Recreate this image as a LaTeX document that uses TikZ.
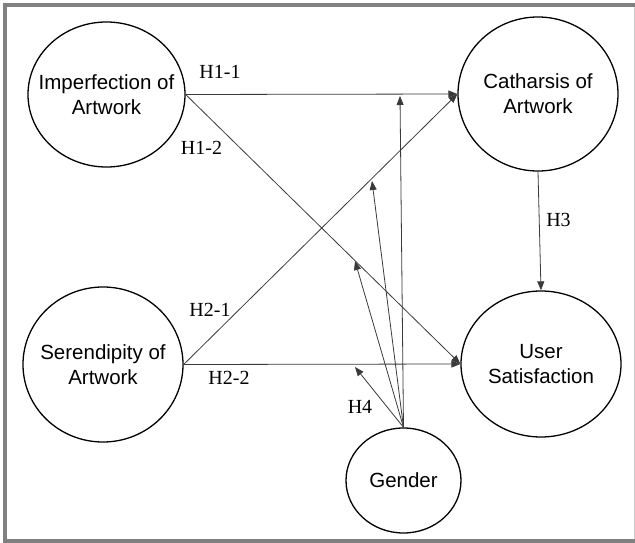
\documentclass[tikz,border=0pt]{standalone}
\usepackage{fontspec}
\setmainfont{Liberation Serif}
\newfontfamily\labelsans{Liberation Sans}
\usetikzlibrary{shapes.geometric,arrows.meta}
\definecolor{framegray}{HTML}{808080}
\definecolor{linegray}{HTML}{3A3A3A}
\tikzset{
  construct/.style={ellipse,draw=black,line width=1.3pt,inner sep=0pt,
    label={[align=center,font=\labelsans\fontsize{20.5}{25}\selectfont]center:#1}},
  path/.style={draw=linegray,line width=0.8pt},
  arr/.style={path,-{Triangle[length=9pt,width=7pt]}},
  hyp/.style={inner sep=0pt,font=\fontsize{20}{24}\selectfont}
}
\begin{document}
\begin{tikzpicture}[x=1pt,y=-1pt]
  \useasboundingbox (0,0) rectangle (635,543);
  % frame
  \fill[framegray] (3,3) rectangle (635,7);
  \fill[framegray] (3,3) rectangle (7,543);
  \fill[framegray] (3,539) rectangle (635,543);
  \draw[framegray!40,line width=0.8pt] (634,7) -- (634,539);

  % constructs
  \node[construct={Imperfection of\\Artwork},minimum width=157pt,minimum height=145pt] (imp) at (106.5,94.5) {};
  \node[construct={Catharsis of\\Artwork},minimum width=160pt,minimum height=154pt] (cat) at (538,94) {};
  \node[construct={Serendipity of\\Artwork},minimum width=160pt,minimum height=155pt] (ser) at (103,364.5) {};
  \node[construct={User\\Satisfaction},minimum width=160pt,minimum height=146pt] (usr) at (541,364) {};
  \node[construct={Gender},minimum width=115pt,minimum height=105pt] (gen) at (403.5,480.5) {};

  % tips of the moderating paths
  \coordinate (m1) at (400,96);
  \coordinate (m2) at (372,181);
  \coordinate (m3) at (355,261);
  \coordinate (m4) at (355,367);

  % direct paths
  \draw[arr] (imp.east) -- (cat.west);
  \draw[arr] (imp.east) -- (usr.west);
  \draw[arr] (ser.east) -- (cat.west);
  \draw[arr] (ser.east) -- (usr.west);
  \draw[arr] (cat.south) -- (usr.north);

  % moderating paths
  \draw[arr] (gen.north) -- (m1);
  \draw[arr] (gen.north) -- (m2);
  \draw[arr] (gen.north) -- (m3);
  \draw[arr] (gen.north) -- (m4);

  % hypothesis labels
  \node[hyp] (h11) at (220,72) {H1-1};
  \node[hyp] (h12) at (201.5,148) {H1-2};
  \node[hyp] (h21) at (210,310) {H2-1};
  \node[hyp] (h22) at (229,378) {H2-2};
  \node[hyp] (h3) at (558.5,220) {H3};
  \node[hyp] (h4) at (360,407) {H4};
\end{tikzpicture}
\end{document}
